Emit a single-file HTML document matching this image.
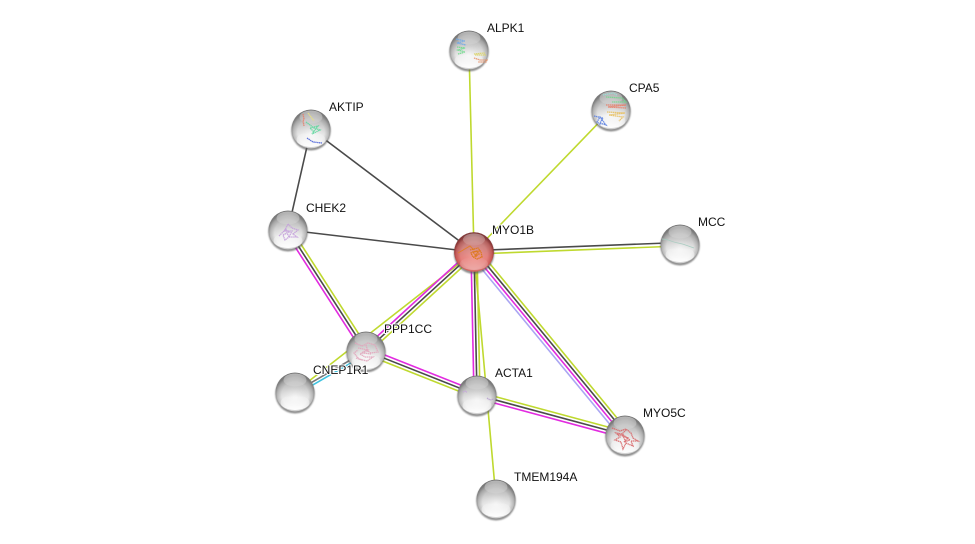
<!DOCTYPE html>
<html><head><meta charset="utf-8"><style>
html,body{margin:0;padding:0;background:#fff;width:975px;height:544px;overflow:hidden}
svg{display:block}
text{font-family:"Liberation Sans",sans-serif;font-size:12px;fill:#111;paint-order:stroke;stroke:#fff;stroke-width:2px;stroke-linejoin:round}
.g{stroke:#bfd92f}.k{stroke:#4a4a4a}.m{stroke:#e22be0}.l{stroke:#aaa6f2}.c{stroke:#3fc3e0}
line{stroke-width:1.6;fill:none}
.d{fill:none;stroke-width:1.3;stroke-dasharray:1.4 .5;stroke-linecap:butt;opacity:.9}
</style></head><body>
<svg width="975" height="544" viewBox="0 0 975 544" xmlns="http://www.w3.org/2000/svg">
<defs>
<radialGradient id="body" cx="50%" cy="58%" r="52%">
<stop offset="0" stop-color="#f8f8f8"/><stop offset=".66" stop-color="#e6e6e6"/><stop offset=".87" stop-color="#bcbcbc"/><stop offset="1" stop-color="#7e7e7e"/>
</radialGradient>
<radialGradient id="red" cx="50%" cy="58%" r="52%">
<stop offset="0" stop-color="#f29a94"/><stop offset=".65" stop-color="#e4807c"/><stop offset=".88" stop-color="#c85450"/><stop offset="1" stop-color="#8e1c1c"/>
</radialGradient>
<linearGradient id="hi" x1="0" y1="0" x2="0" y2="1">
<stop offset="0" stop-color="#fff" stop-opacity=".5"/><stop offset="1" stop-color="#fff" stop-opacity=".1"/>
</linearGradient>
<linearGradient id="lo" x1="0" y1="0" x2="0" y2="1">
<stop offset="0" stop-color="#fff" stop-opacity="0"/><stop offset="1" stop-color="#fff" stop-opacity="1"/>
</linearGradient>
<linearGradient id="top" x1="0" y1="0" x2="0" y2="1">
<stop offset="0" stop-color="#666" stop-opacity=".6"/><stop offset=".4" stop-color="#888" stop-opacity=".3"/><stop offset=".65" stop-color="#999" stop-opacity="0"/>
</linearGradient>
<filter id="b" x="-20%" y="-20%" width="140%" height="140%"><feGaussianBlur stdDeviation=".9"/></filter>
<g id="s">
<circle cx="0" cy="1.7" r="19.8" fill="#555" opacity=".65" filter="url(#b)"/>
<circle r="19.4" fill="url(#body)"/>
<circle r="19.4" fill="url(#top)"/>
<ellipse cx="0" cy="10.5" rx="14.5" ry="7.5" fill="url(#lo)"/>
<ellipse cx="0" cy="-12" rx="11.5" ry="6.5" fill="url(#hi)"/>
</g>
<g id="r">
<circle cx="0" cy="1.7" r="20.2" fill="#555" opacity=".65" filter="url(#b)"/>
<circle r="19.8" fill="url(#red)"/>
<circle r="19.8" fill="url(#top)" opacity=".7"/>
<ellipse cx="0" cy="11.5" rx="14" ry="6.5" fill="url(#lo)" opacity=".35"/>
<ellipse cx="0" cy="-12.5" rx="11" ry="6" fill="url(#hi)" opacity=".8"/>
</g>
</defs>

<!-- single edges -->
<line class="g" x1="469" y1="50" x2="474" y2="252"/>
<line class="g" x1="611" y1="110" x2="474" y2="252"/>
<line class="g" x1="474" y1="252" x2="496" y2="499"/>
<line class="g" x1="474" y1="252" x2="295" y2="392"/>
<line class="k" x1="311" y1="129" x2="474" y2="252"/>
<line class="k" x1="311" y1="129" x2="288" y2="230"/>
<line class="k" x1="288" y1="230" x2="474" y2="252"/>

<!-- MYO1B - MCC -->
<line class="k" x1="474" y1="250.5" x2="680" y2="242.5"/>
<line class="g" x1="474" y1="254" x2="680" y2="246"/>

<!-- MYO1B - MYO5C -->
<g transform="translate(474 252) rotate(50.5)">
<line class="l" x1="0" y1="4.8" x2="237" y2="4.8"/>
<line class="m" x1="0" y1="1.6" x2="237" y2="1.6"/>
<line class="k" x1="0" y1="-1.6" x2="237" y2="-1.6"/>
<line class="g" x1="0" y1="-4.8" x2="237" y2="-4.8"/>
</g>
<!-- MYO1B - ACTA1 -->
<g transform="translate(474 252) rotate(88.8)">
<line class="m" x1="0" y1="3" x2="143" y2="3"/>
<line class="k" x1="0" y1="0" x2="143" y2="0"/>
<line class="g" x1="0" y1="-3" x2="143" y2="-3"/>
</g>
<!-- MYO1B - PPP1CC -->
<g transform="translate(474 252) rotate(137.5)">
<line class="m" x1="0" y1="3.2" x2="147" y2="3.2"/>
<line class="k" x1="0" y1="0" x2="147" y2="0"/>
<line class="g" x1="0" y1="-3.2" x2="147" y2="-3.2"/>
</g>
<!-- CHEK2 - PPP1CC -->
<g transform="translate(288 230) rotate(57.2)">
<line class="m" x1="0" y1="3.2" x2="144" y2="3.2"/>
<line class="k" x1="0" y1="0" x2="144" y2="0"/>
<line class="g" x1="0" y1="-3.2" x2="144" y2="-3.2"/>
</g>
<!-- PPP1CC - ACTA1 -->
<g transform="translate(366 351) rotate(21.6)">
<line class="m" x1="0" y1="-3.2" x2="119" y2="-3.2"/>
<line class="k" x1="0" y1="0" x2="119" y2="0"/>
<line class="g" x1="0" y1="3.2" x2="119" y2="3.2"/>
</g>
<!-- ACTA1 - MYO5C -->
<g transform="translate(477 395) rotate(15.1)">
<line class="g" x1="0" y1="-3.2" x2="153" y2="-3.2"/>
<line class="k" x1="0" y1="0" x2="153" y2="0"/>
<line class="m" x1="0" y1="3.2" x2="153" y2="3.2"/>
</g>
<!-- CNEP1R1 - PPP1CC -->
<g transform="translate(295 392) rotate(-30)">
<line class="k" x1="0" y1="0" x2="82" y2="0" style="stroke:#777"/>
<line class="c" x1="0" y1="2.8" x2="82" y2="2.8"/>
</g>

<!-- nodes -->
<use href="#s" x="469" y="50"/>
<path class="d" stroke="#6fa8e8" d="M456 39l9 2-8 2 9 2"/>
<path class="d" stroke="#6fdc8c" d="M457 47l8 1-7 2 7 2-7 2"/>
<path class="d" stroke="#dcd468" d="M474 54l10-1 1 2-10 0"/>
<path class="d" stroke="#e8946a" d="M474 58l6 2 7 0-1 2-8 0"/>

<use href="#s" x="611" y="110"/>
<path class="d" stroke="#9ce0d8" d="M603 95l10-2 4 2"/>
<path class="d" stroke="#74d88e" d="M606 97l16 1 4 4-14 0"/>
<path class="d" stroke="#e8806a" d="M606 105l20 0-18 2 18 1"/>
<path class="d" stroke="#e8c060" d="M607 112l18 1-16 2 14 2-4 4"/>
<path class="d" stroke="#5d82e0" d="M594 116l9 2-3 5 6 2-6-8-3 5 4 3"/>

<use href="#s" x="311" y="129"/>
<path class="d" stroke="#e8806a" d="M303 114l1 5-1 2 1 5"/>
<path class="d" stroke="#60d8a0" d="M306 122l8 6 6 2-8 4 6-8-8 2 4 4"/>
<path class="d" stroke="#e8e080" d="M308 113l6 8"/>
<path class="d" stroke="#4a62d8" d="M307 138l6 4 9 1"/>

<use href="#s" x="288" y="230"/>
<path class="d" stroke="#c4a0dc" d="M279 236l6-6 3-6 4 4 6 2-5 4 4 3-8 0-4 3-2-5 6-3-4-3 4 8 3-6-8 0"/>

<use href="#s" x="680" y="244"/>
<path fill="none" stroke="#a8ccc0" stroke-width=".7" d="M662 239c6 0 10 3 16 4s10 3 16 5"/>

<use href="#r" x="474" y="252"/>
<path fill="none" stroke="#e07f2a" stroke-width="1" d="M458 253l12-7 4 4"/>
<path class="d" stroke="#dd7a22" style="opacity:1" d="M470 250l8-2 3 4 1 5-5 2-4-2-2-4 5-2 3 3-5 3 5-6-6 1 4 5"/>

<use href="#s" x="366" y="351"/>
<path class="d" stroke="#e2a6bc" d="M355 343l7 3 6-3 7 2 3 7-7 1-5-3-6 4 5 3 8 0-6 4-8-2-5-6 4-3M356 358l6 2M358 348l10 2-5 3 8 1M366 345l2 7"/>

<use href="#s" x="295" y="392"/>

<use href="#s" x="477" y="395"/>
<path class="d" stroke="#c8a8dc" d="M463 392l3-1M466 392l1 0"/>
<path class="d" stroke="#b8a0d0" d="M487 398l3 2 4-1"/>

<use href="#s" x="625" y="435"/>
<path class="d" stroke="#d8696c" d="M612 428l8 3 6-2 5 4 2 5 5 3-7 0 2 5-7-3-3 6-2-7-6-2 5-3-4-4 6 1 4-4M618 434l10 4-4 4 6-2-8-6 4 8"/>

<use href="#s" x="496" y="499"/>

<!-- labels -->
<text x="487" y="32">ALPK1</text>
<text x="629" y="92">CPA5</text>
<text x="329" y="111">AKTIP</text>
<text x="306" y="212">CHEK2</text>
<text x="492" y="234">MYO1B</text>
<text x="698" y="226">MCC</text>
<text x="384" y="333">PPP1CC</text>
<text x="313" y="374">CNEP1R1</text>
<text x="495" y="377">ACTA1</text>
<text x="643" y="417">MYO5C</text>
<text x="514" y="481">TMEM194A</text>
</svg>
</body></html>
